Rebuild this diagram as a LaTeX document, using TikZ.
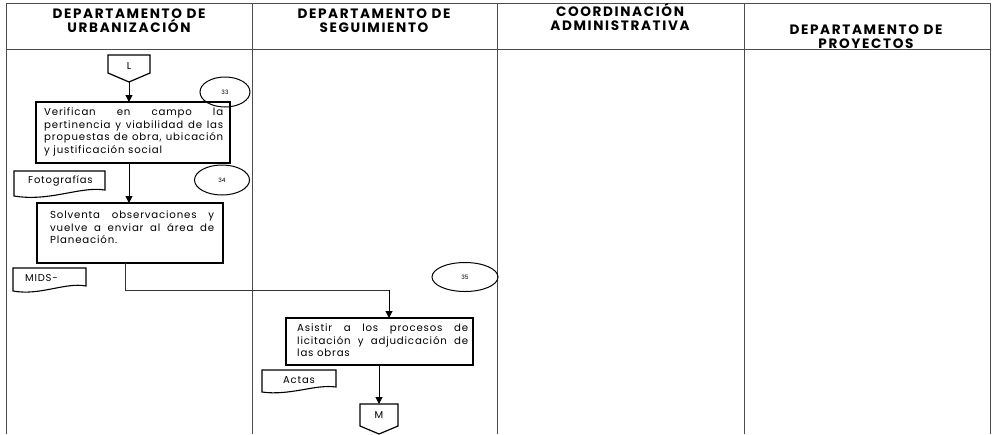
\documentclass[tikz,border=0pt]{standalone}
\usepackage{fontspec}
\setmainfont{Poppins}
\newfontfamily\hfont[LetterSpace=12]{Poppins}
\newfontfamily\bfont[LetterSpace=8,HyphenChar=None]{Poppins}
\usetikzlibrary{arrows.meta,calc,shapes.geometric}
\begin{document}
\begin{tikzpicture}[x=1pt,y=-1pt,
  grid/.style={draw=black!70,line width=0.9pt},
  hdr/.style={font=\hfont\bfseries\fontsize{13.6}{14}\selectfont,align=center,inner sep=0pt},
  proc/.style={draw,line width=1.3pt,anchor=north west,inner sep=0pt},
  ptxt/.style={font=\bfont\fontsize{10.2}{12.4}\selectfont,align=justify,inner sep=0pt},
  num/.style={draw,ellipse,line width=1pt,inner sep=0pt,font=\fontsize{6}{7}\selectfont},
  dtxt/.style={font=\bfont\fontsize{10}{10}\selectfont,inner sep=0pt},
  arr/.style={line width=1pt,-{Triangle[length=7pt,width=7pt]}},
  lnk/.style={line width=0.8pt,draw=black!80}
]
\useasboundingbox (0,0) rectangle (992,434);
% table
\draw[grid] (6,434) -- (6,3) -- (990,3) -- (990,434);
\draw[grid] (6,49) -- (990,49);
\foreach \xx in {252,497,744} \draw[grid] (\xx,3) -- (\xx,434);
% headers
\node[hdr] (h1) at (129,21) {DEPARTAMENTO DE\\URBANIZACIÓN};
\node[hdr] (h2) at (374,21) {DEPARTAMENTO DE\\SEGUIMIENTO};
\node[hdr] (h3) at (620,17) {COORDINACIÓN\\ADMINISTRATIVA};
\node[hdr] (h4) at (866,37) {DEPARTAMENTO DE\\PROYECTOS};
% connector L
\coordinate (Lnw) at (108,55); \coordinate (Lne) at (150,55);
\coordinate (Lse) at (150,73); \coordinate (Lsw) at (108,73);
\coordinate (Ltip) at (129,82);
\draw[line width=1.2pt] (Lnw) -- (Lne) -- (Lse) -- (Ltip) -- (Lsw) -- cycle;
\node[font=\fontsize{10}{12}\selectfont] (L) at (129,66) {L};
% ellipse 33
\node[num,minimum width=50pt,minimum height=30pt] (e33) at (225,92) {33};
% box 1
\draw[proc] (36,102) rectangle (230,163);
\coordinate (b1t) at (129,102); \coordinate (b1b) at (129,163);
\node[ptxt,text width=179pt,anchor=north west] (t1) at (44,108) {Verifican en campo la pertinencia y viabilidad de las propuestas de obra, ubicación\linebreak y justificación social};
\draw[arr] (Ltip) -- (b1t);
% doc Fotografias
\coordinate (f1) at (14,171); \coordinate (f2) at (105,171);
\draw[line width=1.1pt] (f1) -- (f2) -- (105,190) .. controls (80,186) and (50,202) .. (14,196) -- cycle;
\node[dtxt,anchor=west] (fot) at (28,181) {Fotografías};
% ellipse 34
\node[num,minimum width=55pt,minimum height=30pt] (e34) at (222,180) {34};
% box 2
\draw[proc] (37,203) rectangle (223,263);
\coordinate (b2t) at (129,203); \coordinate (b2b) at (125,263);
\node[ptxt,text width=164pt,anchor=north west] (t2) at (50,211) {Solventa observaciones y vuelve a enviar al área de Planeación.};
\draw[arr] (b1b) -- (b2t);
% doc MIDS-
\draw[line width=1.1pt] (13,268) -- (86,268) -- (86,286) .. controls (65,282) and (40,296) .. (13,291) -- cycle;
\node[dtxt,anchor=west] (mids) at (25,278) {MIDS-};
% ellipse 35
\node[num,minimum width=66pt,minimum height=29pt] (e35) at (465,277) {35};
% box 3
\draw[proc] (286,318) rectangle (473,365);
\coordinate (b3t) at (389,318); \coordinate (b3b) at (379,365);
\node[ptxt,text width=171pt,anchor=north west] (t3) at (297,324) {Asistir a los procesos de licitación y adjudicación de las obras};
\coordinate (k1) at (125,290); \coordinate (k2) at (389,290);
\draw[lnk] (b2b) -- (k1) -- (k2);
\draw[arr] (k2) -- (b3t);
% doc Actas
\draw[line width=1.1pt] (262,370) -- (336,370) -- (336,387) .. controls (315,384) and (290,396) .. (262,392) -- cycle;
\node[dtxt,anchor=west] (act) at (283,380) {Actas};
% connector M
\coordinate (Mnw) at (360,404); \coordinate (Mne) at (398,404);
\coordinate (Mse) at (398,426); \coordinate (Msw) at (360,426);
\coordinate (Mtip) at (379,434);
\draw[line width=1.2pt] (Mnw) -- (Mne) -- (Mse) -- (Mtip) -- (Msw) -- cycle;
\node[font=\fontsize{10}{12}\selectfont] (M) at (379,415) {M};
\draw[arr] (b3b) -- (Mnw -| b3b);
\end{tikzpicture}
\end{document}
